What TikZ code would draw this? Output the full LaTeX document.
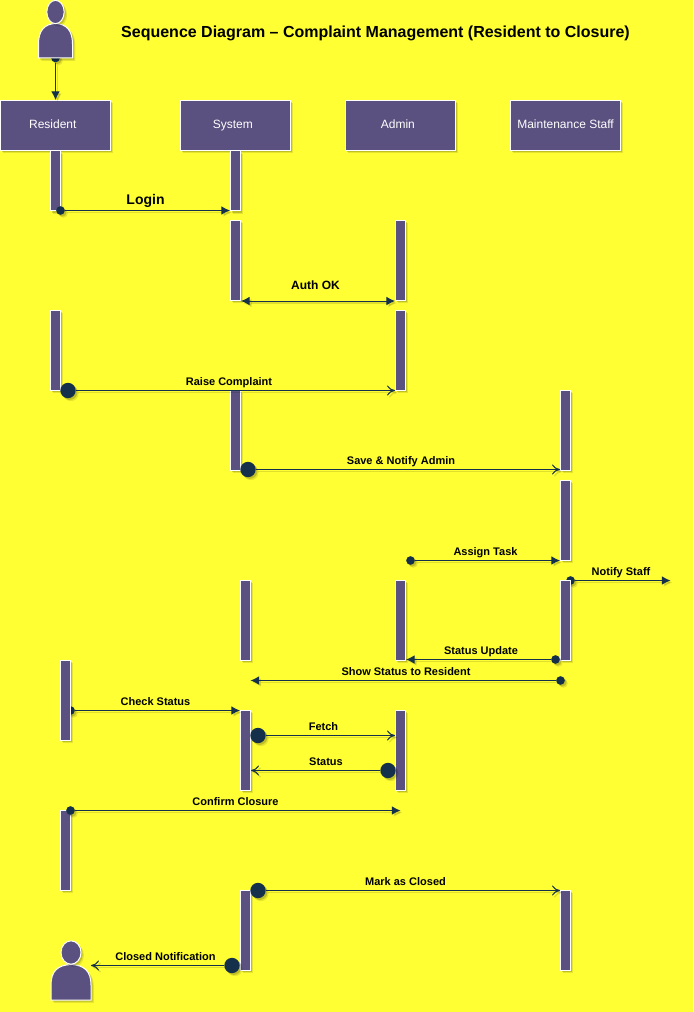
\documentclass[tikz,border=0pt]{standalone}
\usepackage{fontspec}
\setmainfont{Liberation Sans}
\usetikzlibrary{arrows.meta,shadows,shapes.geometric}
\definecolor{bgYellow}{HTML}{FFFF33}
\definecolor{boxPurple}{HTML}{5A5180}
\definecolor{lineNavy}{HTML}{14304A}
\tikzset{
  softshadow/.style={
    drop shadow={shadow xshift=2.2pt,shadow yshift=-2.2pt,opacity=.1,fill=black},
    drop shadow={shadow xshift=1.3pt,shadow yshift=-1.3pt,opacity=.16,fill=black}},
  headbox/.style={draw=white, fill=boxPurple, line width=0.75pt, softshadow, text=white, font=\fontsize{9}{11}\selectfont,
    minimum width=82.5pt, minimum height=37.5pt, inner sep=0pt, text height=6.5pt, text depth=2pt},
  bar/.style={draw=white, fill=boxPurple, line width=0.75pt, softshadow, anchor=north, minimum width=7.5pt, inner sep=0pt},
  barS/.style={bar, minimum height=45pt},
  barL/.style={bar, minimum height=60pt},
  dotS/.style={circle, fill=lineNavy, softshadow, minimum size=6.5pt, inner sep=0pt},
  dotL/.style={circle, fill=lineNavy, softshadow, minimum size=11.5pt, inner sep=0pt},
  msg/.style={lineNavy, line width=0.75pt,
    preaction={draw=black, opacity=.12, line width=1pt, transform canvas={shift={(1.5pt,-1.5pt)}}}},
  solidmsg/.style={msg, -{Latex[length=6.5pt,width=6.5pt]}},
  openmsg/.style={msg, -{To[length=6pt,width=7.5pt]}},
  lbl/.style={font=\bfseries\fontsize{8.25}{10}\selectfont, text=black, inner sep=0pt},
  actor/.style={draw=white, fill=boxPurple, line width=0.75pt, softshadow}
}
\begin{document}
\begin{tikzpicture}[x=0.75pt, y=-0.75pt]
\useasboundingbox (0,0) rectangle (693,1012);
\fill[bgYellow] (0,0) rectangle (693,1012);

% ---------- Title ----------
\node[font=\bfseries\fontsize{12}{14}\selectfont, text=black, inner sep=0pt] (title) at (375.5,33.5) {Sequence Diagram – Complaint Management (Resident to Closure)};

% ---------- Dots that sit behind other shapes ----------
\node[dotS] (dActor) at (55.5,58) {};
\node[dotS] (dNotify) at (570.5,580.5) {};
\node[dotS] (dCheck) at (70.5,710.5) {};

% ---------- Actors ----------
\draw[actor] (38.5,58) -- (38.5,44) .. controls (38.5,30) and (45,24) .. (55.5,23.5) .. controls (66,24) and (72.5,30) .. (72.5,44) -- (72.5,58) -- cycle;
\node[actor, ellipse, minimum width=13pt, minimum height=17.5pt, inner sep=0pt] (actorTop) at (55.5,12) {};

\draw[actor] (51,1000) -- (51,985) .. controls (51,971) and (58,965) .. (71,964.5) .. controls (84,965) and (91,971) .. (91,985) -- (91,1000) -- cycle;
\node[actor, ellipse, minimum width=15pt, minimum height=17.5pt, inner sep=0pt] (actorEnd) at (71,952.5) {};
\coordinate (actorEndHand) at (91,965.5);

% ---------- Lifeline heads ----------
\node[headbox] (resident) at (55.5,125.5) {\hspace*{-4pt}Resident};
\node[headbox] (system) at (235.5,125.5) {\hspace*{-4pt}System};
\node[headbox] (admin) at (400.5,125.5) {\hspace*{-4pt}Admin};
\node[headbox] (staff) at (565.5,125.5) {Maintenance Staff};

% ---------- Activation bars ----------
\node[barS] (r1) at (55.5,150.5) {};
\node[barS] (s1) at (235.5,150.5) {};
\node[barL] (s2) at (235.5,220) {};
\node[barL] (a1) at (400.5,220) {};
\node[barL] (r2) at (55.5,310) {};
\node[barL] (a2) at (400.5,310) {};
\node[barL] (s3) at (235.5,390) {};
\node[barL] (m1) at (565.5,390) {};
\node[barL] (m2) at (565.5,480) {};
\node[barL] (s4) at (245.5,580) {};
\node[barL] (a3) at (400.5,580) {};
\node[barL] (m3) at (565.5,580) {};
\node[barL] (r3) at (65.5,660) {};
\node[barL] (s5) at (245.5,710) {};
\node[barL] (a4) at (400.5,710) {};
\node[barL] (r4) at (65.5,810) {};
\node[barL] (s6) at (245.5,890) {};
\node[barL] (m4) at (565.5,890) {};

% ---------- Message start points ----------
\node[dotS] (dLogin) at (60.5,210.5) {};
\node[dotL] (dRaise) at (68,390.5) {};
\node[dotL] (dSave) at (248,469.5) {};
\node[dotS] (dAssign) at (410.5,560.5) {};
\node[dotS] (dUpdate) at (555.5,659.5) {};
\node[dotS] (dShow) at (560.5,680.5) {};
\node[dotL] (dFetch) at (258,735.5) {};
\node[dotL] (dStatus) at (388,770.5) {};
\node[dotS] (dConfirm) at (70.5,810.5) {};
\node[dotL] (dMark) at (258,890.5) {};
\node[dotL] (dClosed) at (232,965.5) {};

% Free ends
\coordinate (endNotify) at (670.5,580.5);
\coordinate (endShow) at (250.5,680.5);
\coordinate (endConfirm) at (400.5,810.5);

% ---------- Messages ----------
\draw[solidmsg] (dActor) -- (resident);
\draw[solidmsg] (dLogin) -- (dLogin -| s1.west);
\draw[msg, {Latex[length=6.5pt,width=6.5pt]}-{Latex[length=6.5pt,width=6.5pt]}] (s2.south east) -- (a1.south west);
\draw[openmsg] (dRaise) -- (dRaise -| a2.west);
\draw[openmsg] (dSave) -- (dSave -| m1.west);
\draw[solidmsg] (dAssign) -- (dAssign -| m2.west);
\draw[solidmsg] (dNotify) -- (endNotify);
\draw[solidmsg] (dUpdate) -- (dUpdate -| a3.east);
\draw[solidmsg] (dShow) -- (endShow);
\draw[solidmsg] (dCheck) -- (dCheck -| s5.west);
\draw[openmsg] (dFetch) -- (dFetch -| a4.west);
\draw[openmsg] (dStatus) -- (dStatus -| s5.east);
\draw[solidmsg] (dConfirm) -- (endConfirm);
\draw[openmsg] (dMark) -- (dMark -| m4.west);
\draw[openmsg] (dClosed) -- (actorEndHand);

% ---------- Labels ----------
\node[lbl, font=\bfseries\fontsize{10.5}{12}\selectfont] (lLogin) at (145.5,200.5) {Login};
\node[lbl, font=\bfseries\fontsize{9}{11}\selectfont] (lAuth) at (315.5,285.5) {Auth OK};
\node[lbl] (lRaise) at (229,382.5) {Raise Complaint};
\node[lbl] (lSave) at (401,461.5) {Save \& Notify Admin};
\node[lbl] (lAssign) at (485.5,552.5) {Assign Task};
\node[lbl] (lNotify) at (621,572.5) {Notify Staff};
\node[lbl] (lUpdate) at (481,651.5) {Status Update};
\node[lbl] (lShow) at (406,672) {Show Status to Resident};
\node[lbl] (lCheck) at (155.5,702) {Check Status};
\node[lbl] (lFetch) at (323.5,727) {Fetch};
\node[lbl] (lStatus) at (326,762) {Status};
\node[lbl] (lConfirm) at (235.5,802) {Confirm Closure};
\node[lbl] (lMark) at (405.5,882) {Mark as Closed};
\node[lbl] (lClosed) at (165.5,957) {Closed Notification};

\end{tikzpicture}
\end{document}
